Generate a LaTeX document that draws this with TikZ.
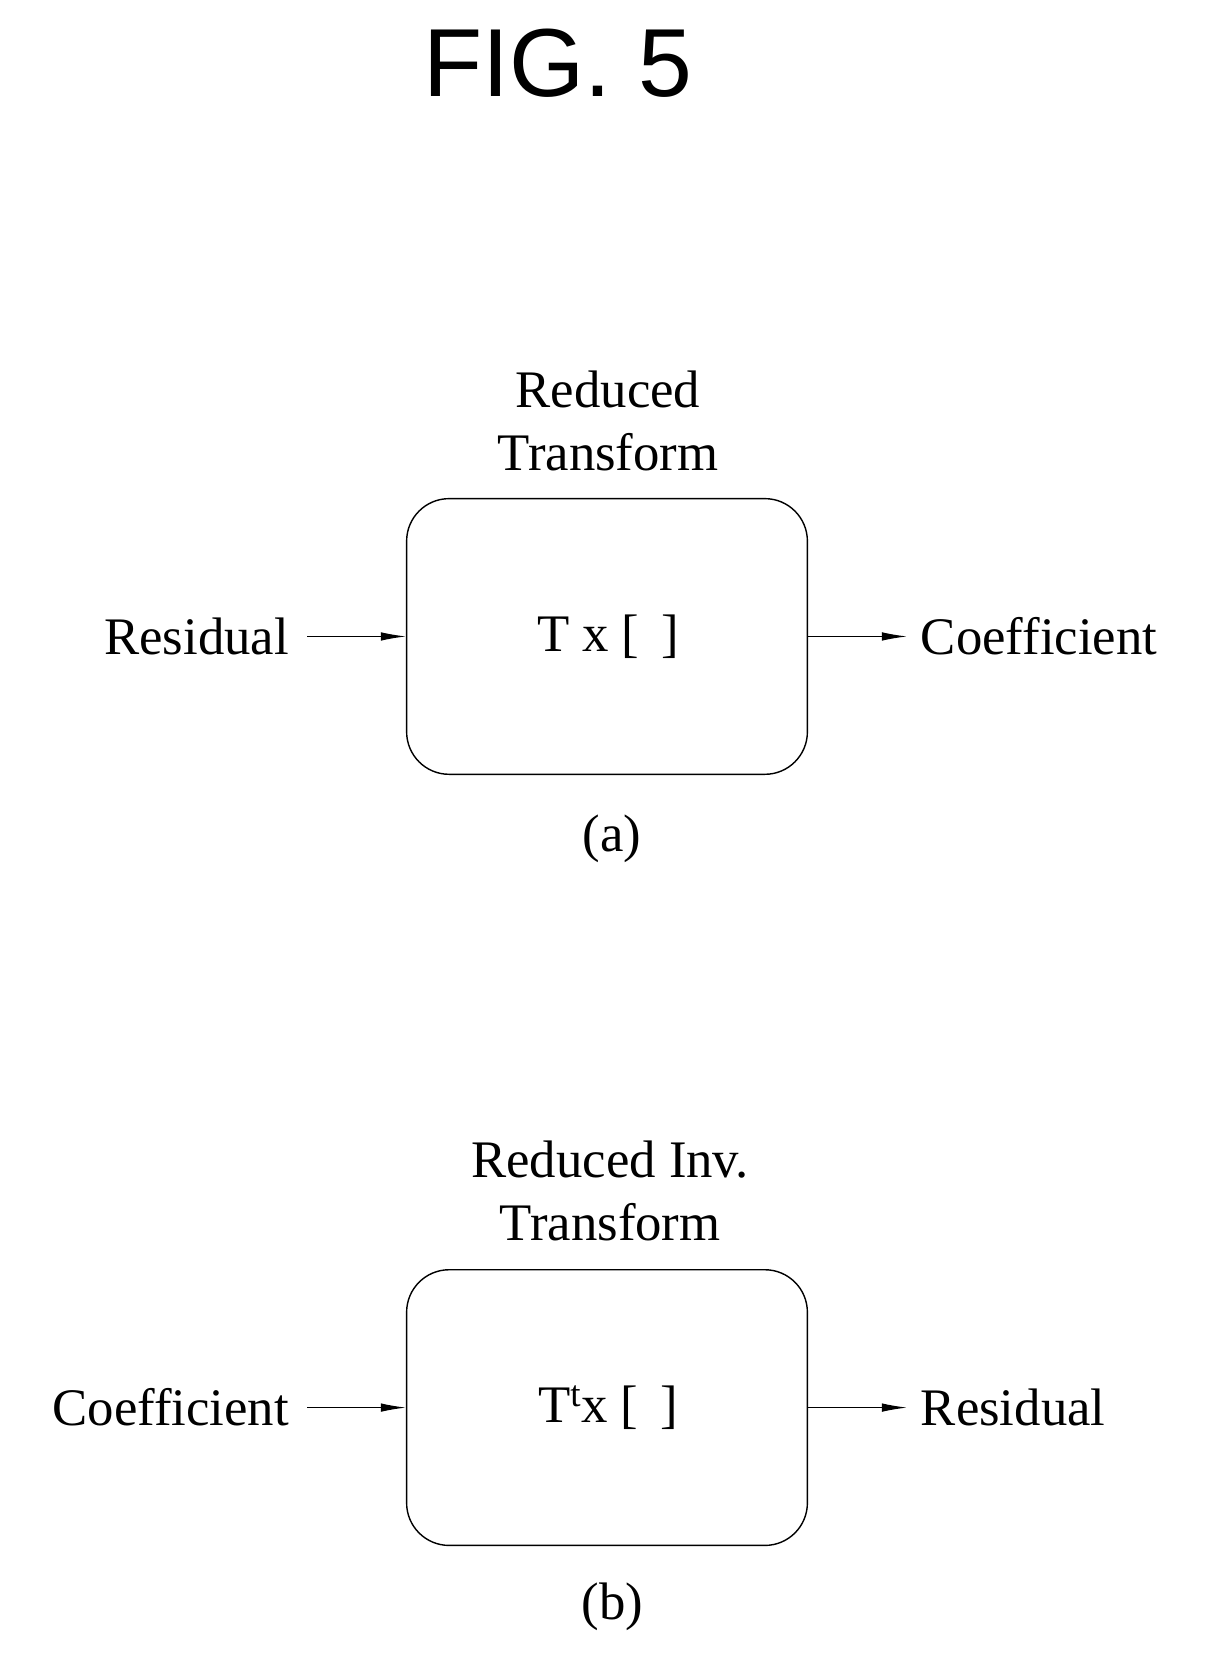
\documentclass[tikz,border=0pt]{standalone}
\usepackage{fontspec}
\setmainfont{Liberation Serif}
\setsansfont{Liberation Sans}
\usetikzlibrary{positioning,arrows.meta}
\begin{document}
\begin{tikzpicture}[x=0.021034cm,y=-0.021034cm,
    blk/.style={draw,thick,rounded corners=0.85cm,minimum width=8.01cm,minimum height=5.51cm},
    lbl/.style={font=\fontsize{30}{36}\selectfont,inner sep=0pt},
    arr/.style={-{Latex[length=0.5cm,width=0.17cm]},semithick}]
        \useasboundingbox (0,0) rectangle (1160,1577);
        \node [font=\sffamily\fontsize{55}{66}\selectfont] (title) at (530,60) {FIG. 5};
        % (a)
        \node [blk] (A) at (577,605) {};
        \node [lbl] (At) at (578,605) {T x [ \,]};
        \node [lbl,align=center] (An) at (578,400) {Reduced\\Transform};
        \node [lbl] (Ac) at (582,797) {(a)};
        \node [lbl,anchor=east] (Ain) at (275,605) {Residual};
        \node [lbl,anchor=west] (Aout) at (875,605) {Coefficient};
        \draw [arr] (Ain.east) ++(17,0) -- (A.west);
        \draw [arr] (A.east) -- ++(94,0);
        % (b)
        \node [blk] (B) at (577,1338) {};
        \node [lbl] (Bt) at (578,1338) {T\textsuperscript{t}x [ \,]};
        \node [lbl,align=center] (Bn) at (580,1132) {Reduced Inv.\\Transform};
        \node [lbl] (Bc) at (582,1527) {(b)};
        \node [lbl,anchor=east] (Bin) at (275,1338) {Coefficient};
        \node [lbl,anchor=west] (Bout) at (875,1338) {Residual};
        \draw [arr] (Bin.east) ++(17,0) -- (B.west);
        \draw [arr] (B.east) -- ++(94,0);
\end{tikzpicture}
\end{document}
